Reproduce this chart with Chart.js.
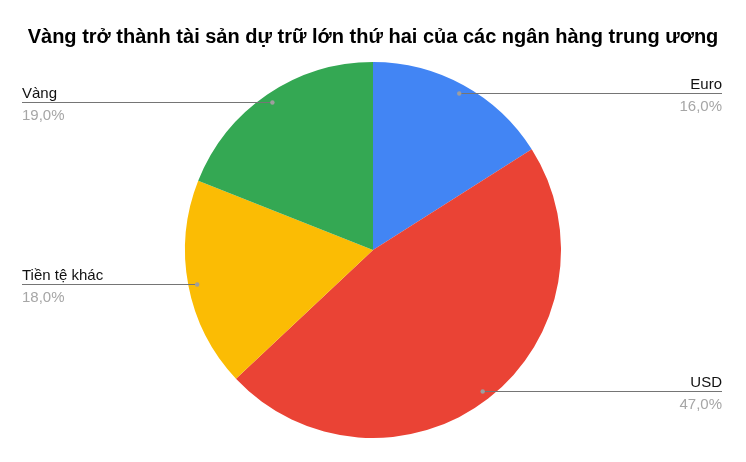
<!DOCTYPE html>
<html>
<head>
<meta charset="utf-8">
<script src="https://cdn.jsdelivr.net/npm/chart.js@4/dist/chart.umd.min.js"></script>
<style>
  html, body { margin: 0; padding: 0; background: #fff; }
  #wrap { width: 746px; height: 462px; }
</style>
</head>
<body>
<div id="wrap"><canvas id="pie"></canvas></div>
<script>
// Chart data
const titleText = 'Vàng trở thành tài sản dự trữ lớn thứ hai của các ngân hàng trung ương';
const labels = ['Euro', 'USD', 'Tiền tệ khác', 'Vàng'];
const shares = [16.0, 47.0, 18.0, 19.0];
const colors = ['#4285F4', '#EA4335', '#FBBC04', '#34A853'];

// Draws the leader lines with name above and percentage below
const leaderLabels = {
    id: 'leaderLabels',
    afterDatasetsDraw(chart) {
        const ctx = chart.ctx;
        const meta = chart.getDatasetMeta(0);
        const leftX = 22, rightX = 722;
        ctx.save();
        meta.data.forEach((arc, i) => {
            const p = arc.getProps(['x', 'y', 'startAngle', 'endAngle', 'outerRadius'], true);
            const mid = (p.startAngle + p.endAngle) / 2;
            const r = p.outerRadius * 0.952;
            const dx = p.x + Math.cos(mid) * r;
            const dy = Math.round(p.y + Math.sin(mid) * r) + 0.5;
            const onRight = Math.cos(mid) > 0;
            const edge = onRight ? rightX : leftX;

            ctx.strokeStyle = '#757575';
            ctx.lineWidth = 1;
            ctx.beginPath();
            ctx.moveTo(dx, dy);
            ctx.lineTo(edge, dy);
            ctx.stroke();

            ctx.fillStyle = '#9e9e9e';
            ctx.beginPath();
            ctx.arc(dx, dy, 2.2, 0, Math.PI * 2);
            ctx.fill();

            ctx.font = '15px "Liberation Sans", Arial, sans-serif';
            ctx.textAlign = onRight ? 'right' : 'left';
            ctx.textBaseline = 'alphabetic';
            ctx.fillStyle = '#111111';
            ctx.fillText(labels[i], edge, dy - 5);
            ctx.fillStyle = '#a6a6a6';
            ctx.fillText(shares[i].toFixed(1).replace('.', ',') + '%', edge, dy + 17);
        });
        ctx.restore();
    }
};

const chart = new Chart(document.getElementById('pie'), {
    type: 'pie',
    data: {
        labels: labels,
        datasets: [{
            data: shares,
            backgroundColor: colors,
            borderWidth: 0
        }]
    },
    options: {
        responsive: true,
        maintainAspectRatio: false,
        animation: false,
        layout: { padding: { top: 0, bottom: 24, left: 0, right: 0 } },
        plugins: {
            legend: { display: false },
            tooltip: { enabled: false },
            title: {
                display: true,
                text: titleText,
                color: '#000',
                font: { family: '"Liberation Sans", Arial, sans-serif', size: 20, weight: 'bold', lineHeight: 1.2 },
                padding: { top: 25, bottom: 13 }
            }
        }
    },
    plugins: [leaderLabels]
});
</script>
</body>
</html>
